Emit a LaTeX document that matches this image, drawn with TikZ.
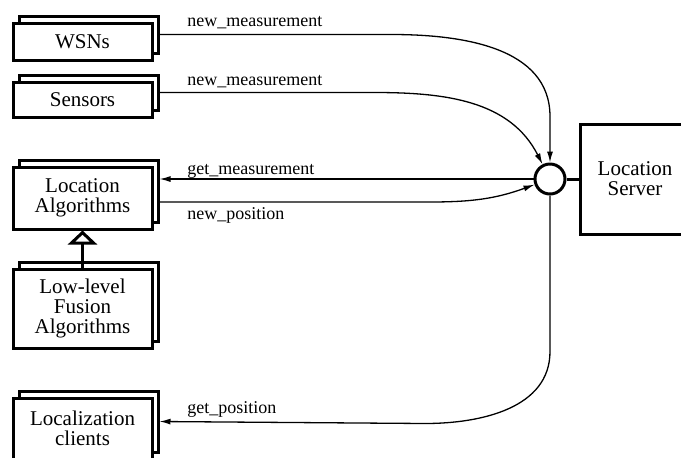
\documentclass[tikz,border=0pt]{standalone}
\usepackage{fontspec}
\setmainfont{Liberation Serif}
\usepackage{tikz}
\usetikzlibrary{
  arrows.meta,
  positioning,
  shadows,
  calc
}
\tikzset{
  unit/.style={
    draw,
    line width=1.5pt,
    fill=white,
    minimum width=69.5pt,
    align=center,
    inner sep=0pt,
    font=\fontsize{10.5}{10}\selectfont,
    copy shadow={shadow xshift=3pt, shadow yshift=3.5pt}
  },
  flow/.style={
    line width=0.65pt,
    -{Latex[length=5.5pt,width=3pt]}
  },
  msg/.style={
    anchor=base west,
    inner sep=0pt,
    font=\fontsize{9}{10}\selectfont
  }
}

\begin{document}
\begin{tikzpicture}[
      x=0.5pt, y=-0.5pt,
      >=Latex
      ]
      \useasboundingbox (0,0) rectangle (681,457);

      % producers and clients
      \node[unit, minimum height=18.5pt] (wsn) at (82.5,41.5) {WSNs};
      \node[unit, minimum height=17.5pt] (sens) at (82.5,99.5) {Sensors};
      \node[unit, minimum height=31pt] (alg) at (82.5,198) {Location\\Algorithms};
      \node[unit, minimum height=39.5pt] (fus) at (82.5,308.5) {Low-level\\Fusion\\Algorithms};
      \node[unit, minimum height=30.5pt] (cli) at (82.5,428.5) {Localization\\clients};

      % server and its interface
      \node[draw, line width=1.5pt, minimum width=55pt, minimum height=55pt,
        align=center, font=\fontsize{10.5}{10}\selectfont] (srv) at (635,179) {Location\\Server};
      \node[draw, circle, line width=1.5pt, fill=white, inner sep=0pt,
        minimum size=15pt] (port) at (550,179) {};
      \draw[line width=1.5pt] (port.east) -- (srv.west);

      \draw[line width=1.5pt, -{Triangle[open,width=14.5pt,length=7pt]}]
      (fus.north) -- (alg.south);

      \draw[flow] ([shift={(3pt,3.5pt)}]wsn.east) -- ++(232,0)
      to[out=0,in=90] ([yshift=23pt]port.north) -- (port.north);
      \draw[flow] ([shift={(3pt,3.5pt)}]sens.east) -- ++(215,0)
      to[out=0,in=117] (port.117);
      \draw[flow] (port.west) -- ([shift={(3pt,9.5pt)}]alg.east);
      \draw[flow] ([shift={(3pt,-2pt)}]alg.east) -- ++(270,0)
      to[out=0,in=200] (port.200);
      \draw[flow] (port.south) -- ++(0,156)
      to[out=270,in=0] ++(-125,72) -- ([shift={(3pt,3.5pt)}]cli.east);

      \node[msg] (m1) at (187,26) {new\_measurement};
      \node[msg] (m2) at (187,85) {new\_measurement};
      \node[msg] (m3) at (187,174) {get\_measurement};
      \node[msg] (m4) at (187,219) {new\_position};
      \node[msg] (m5) at (187,413) {get\_position};
    \end{tikzpicture}
\end{document}
